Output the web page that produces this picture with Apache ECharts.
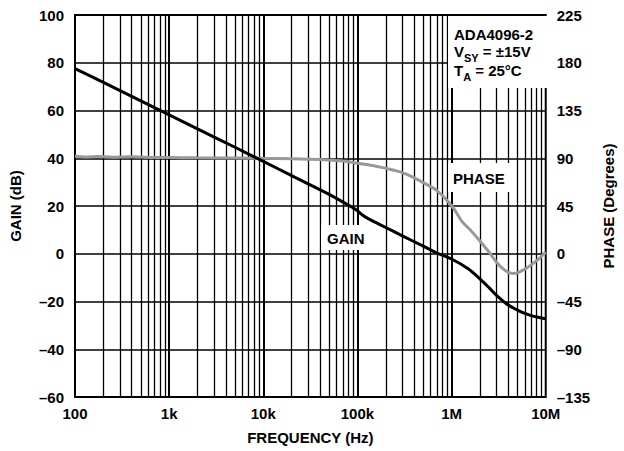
<!DOCTYPE html>
<html>
<head>
<meta charset="utf-8">
<script src="https://cdn.jsdelivr.net/npm/echarts@6/dist/echarts.min.js"></script>
<style>html,body{margin:0;padding:0;background:#fff}#c{width:624px;height:451px}</style>
</head>
<body>
<div id="c"></div>
<script>
// ---- data ----
const gainFreq = [100, 200, 500, 1000, 2000, 5000, 10000, 20000, 50000, 90000, 100000, 115000, 130000, 200000, 300000, 500000, 700000, 1000000, 1500000, 2000000, 2500000, 3000000, 4000000, 5000000, 6000000, 7000000, 8000000, 10000000];
const gainDb   = [77.5, 71.8, 64.0, 58.2, 52.3, 44.6, 38.7, 32.7, 24.9, 19.2, 18.0, 16.0, 14.7, 11.0, 7.5, 3.2, 0.3, -2.2, -6.3, -10.5, -14.2, -17.4, -21.5, -23.6, -25.0, -25.9, -26.5, -27.2];
const phaseFreq = [100, 130, 170, 250, 400, 700, 1000, 2000, 5000, 10000, 20000, 40000, 70000, 100000, 150000, 200000, 300000, 400000, 500000, 700000, 1000000, 1300000, 1600000, 2000000, 2500000, 3000000, 3500000, 4000000, 4500000, 5000000, 6000000, 7000000, 8500000, 10000000];
const phaseDeg  = [91.8, 91.2, 91.7, 91.0, 91.3, 90.7, 90.6, 90.4, 90.2, 89.9, 89.6, 88.8, 87.3, 85.3, 83.0, 80.5, 76.5, 71.5, 67.0, 59.5, 45.5, 30.0, 22.0, 12.0, 1.5, -8.0, -14.0, -17.5, -18.5, -18.0, -14.5, -10.5, -4.5, 1.5];
const decadeTicks = [100, 1000, 10000, 100000, 1000000, 10000000];
const decadeLabels = ['100', '1k', '10k', '100k', '1M', '10M'];
const minorMultipliers = [2, 3, 4, 5, 6, 7, 8, 9];
const gainTicks = [-60, 100, 20];   // min, max, step
const phaseTicks = [-135, 225, 45]; // min, max, step

// ---- build ----
const minorLines = [];
for (let d = 0; d < decadeTicks.length - 1; d++) {
  minorMultipliers.forEach(m => minorLines.push({ xAxis: decadeTicks[d] * m }));
}
const majorLines = decadeTicks.slice(1, -1).map(v => ({ xAxis: v }));
const dash = s => String(s).replace('-', '\u2013');
const FONT = '"Liberation Sans", Arial, sans-serif';
const FS = 15;
const lbl = { color: '#000', fontFamily: FONT, fontWeight: 'bold', fontSize: FS };
const richSub = {
  m: { fontFamily: FONT, fontWeight: 'bold', fontSize: FS, color: '#000', lineHeight: 19, verticalAlign: 'top' },
  s: { fontFamily: FONT, fontWeight: 'bold', fontSize: 11, color: '#000', lineHeight: 19, verticalAlign: 'bottom', padding: [7, 0, 0, 0] }
};

const chart = echarts.init(document.getElementById('c'), null, { renderer: 'svg' });
chart.setOption({
  animation: false,
  backgroundColor: '#fff',
  grid: { left: 74, right: 74, top: 15, bottom: 54, show: true, borderColor: '#000', borderWidth: 2, backgroundColor: 'transparent', z: 10 },
  xAxis: {
    type: 'log', logBase: 10, min: 100, max: 10000000,
    axisLine: { show: false }, axisTick: { show: false },
    splitLine: { show: false },
    axisLabel: Object.assign({ margin: 9, formatter: v => { const i = decadeTicks.indexOf(Math.round(v)); return i >= 0 ? decadeLabels[i] : ''; } }, lbl),
    name: 'FREQUENCY (Hz)', nameLocation: 'middle', nameGap: 33,
    nameTextStyle: Object.assign({}, lbl)
  },
  yAxis: [
    {
      type: 'value', min: gainTicks[0], max: gainTicks[1], interval: gainTicks[2],
      axisLine: { show: false }, axisTick: { show: false },
      splitLine: { show: true, lineStyle: { color: '#000', width: 1.5 } },
      axisLabel: Object.assign({ margin: 11, formatter: dash }, lbl),
      name: 'GAIN (dB)', nameLocation: 'middle', nameGap: 52, nameRotate: 90,
      nameTextStyle: Object.assign({}, lbl)
    },
    {
      type: 'value', min: phaseTicks[0], max: phaseTicks[1], interval: phaseTicks[2],
      axisLine: { show: false }, axisTick: { show: false },
      splitLine: { show: false },
      axisLabel: Object.assign({ margin: 11, formatter: dash }, lbl),
      name: 'PHASE (Degrees)', nameLocation: 'middle', nameGap: 50, nameRotate: 90,
      nameTextStyle: Object.assign({}, lbl)
    }
  ],
  series: [
    {
      type: 'line', data: [], z: 1, silent: true,
      markLine: { z: 1, silent: true, symbol: 'none', label: { show: false },
        lineStyle: { color: '#000', width: 1.3, type: 'solid' }, data: minorLines }
    },
    {
      type: 'line', data: [], z: 1, silent: true,
      markLine: { z: 1, silent: true, symbol: 'none', label: { show: false },
        lineStyle: { color: '#000', width: 2, type: 'solid' }, data: majorLines }
    },
    {
      name: 'PHASE', type: 'line', yAxisIndex: 1, z: 60, showSymbol: false, smooth: 0.3,
      lineStyle: { color: '#999', width: 3 },
      data: phaseFreq.map((f, i) => [f, phaseDeg[i]])
    },
    {
      name: 'GAIN', type: 'line', yAxisIndex: 0, z: 61, showSymbol: false, smooth: 0.3,
      lineStyle: { color: '#000', width: 3 },
      data: gainFreq.map((f, i) => [f, gainDb[i]])
    }
  ],
  graphic: [
    { type: 'rect', z: 50, shape: { x: 448, y: 16, width: 101, height: 72 }, style: { fill: '#fff' } },
    { type: 'text', z: 51, left: 454, top: 27, style: { text: 'ADA4096-2', fill: '#000', font: 'bold ' + FS + 'px ' + FONT } },
    { type: 'text', z: 51, left: 454, top: 44, style: { text: '{m|V}{s|SY}{m| = \u00b115V}', rich: richSub } },
    { type: 'text', z: 51, left: 454, top: 63, style: { text: '{m|T}{s|A}{m| = 25\u00b0C}', rich: richSub } },
    { type: 'rect', z: 50, shape: { x: 448, y: 163, width: 65, height: 29 }, style: { fill: '#fff' } },
    { type: 'text', z: 51, left: 453, top: 171, style: { text: 'PHASE', fill: '#000', font: 'bold ' + FS + 'px ' + FONT } },
    { type: 'rect', z: 50, shape: { x: 321, y: 225, width: 51, height: 25 }, style: { fill: '#fff' } },
    { type: 'text', z: 51, left: 327, top: 231, style: { text: 'GAIN', fill: '#000', font: 'bold ' + FS + 'px ' + FONT } }
  ]
});
</script>
</body>
</html>
